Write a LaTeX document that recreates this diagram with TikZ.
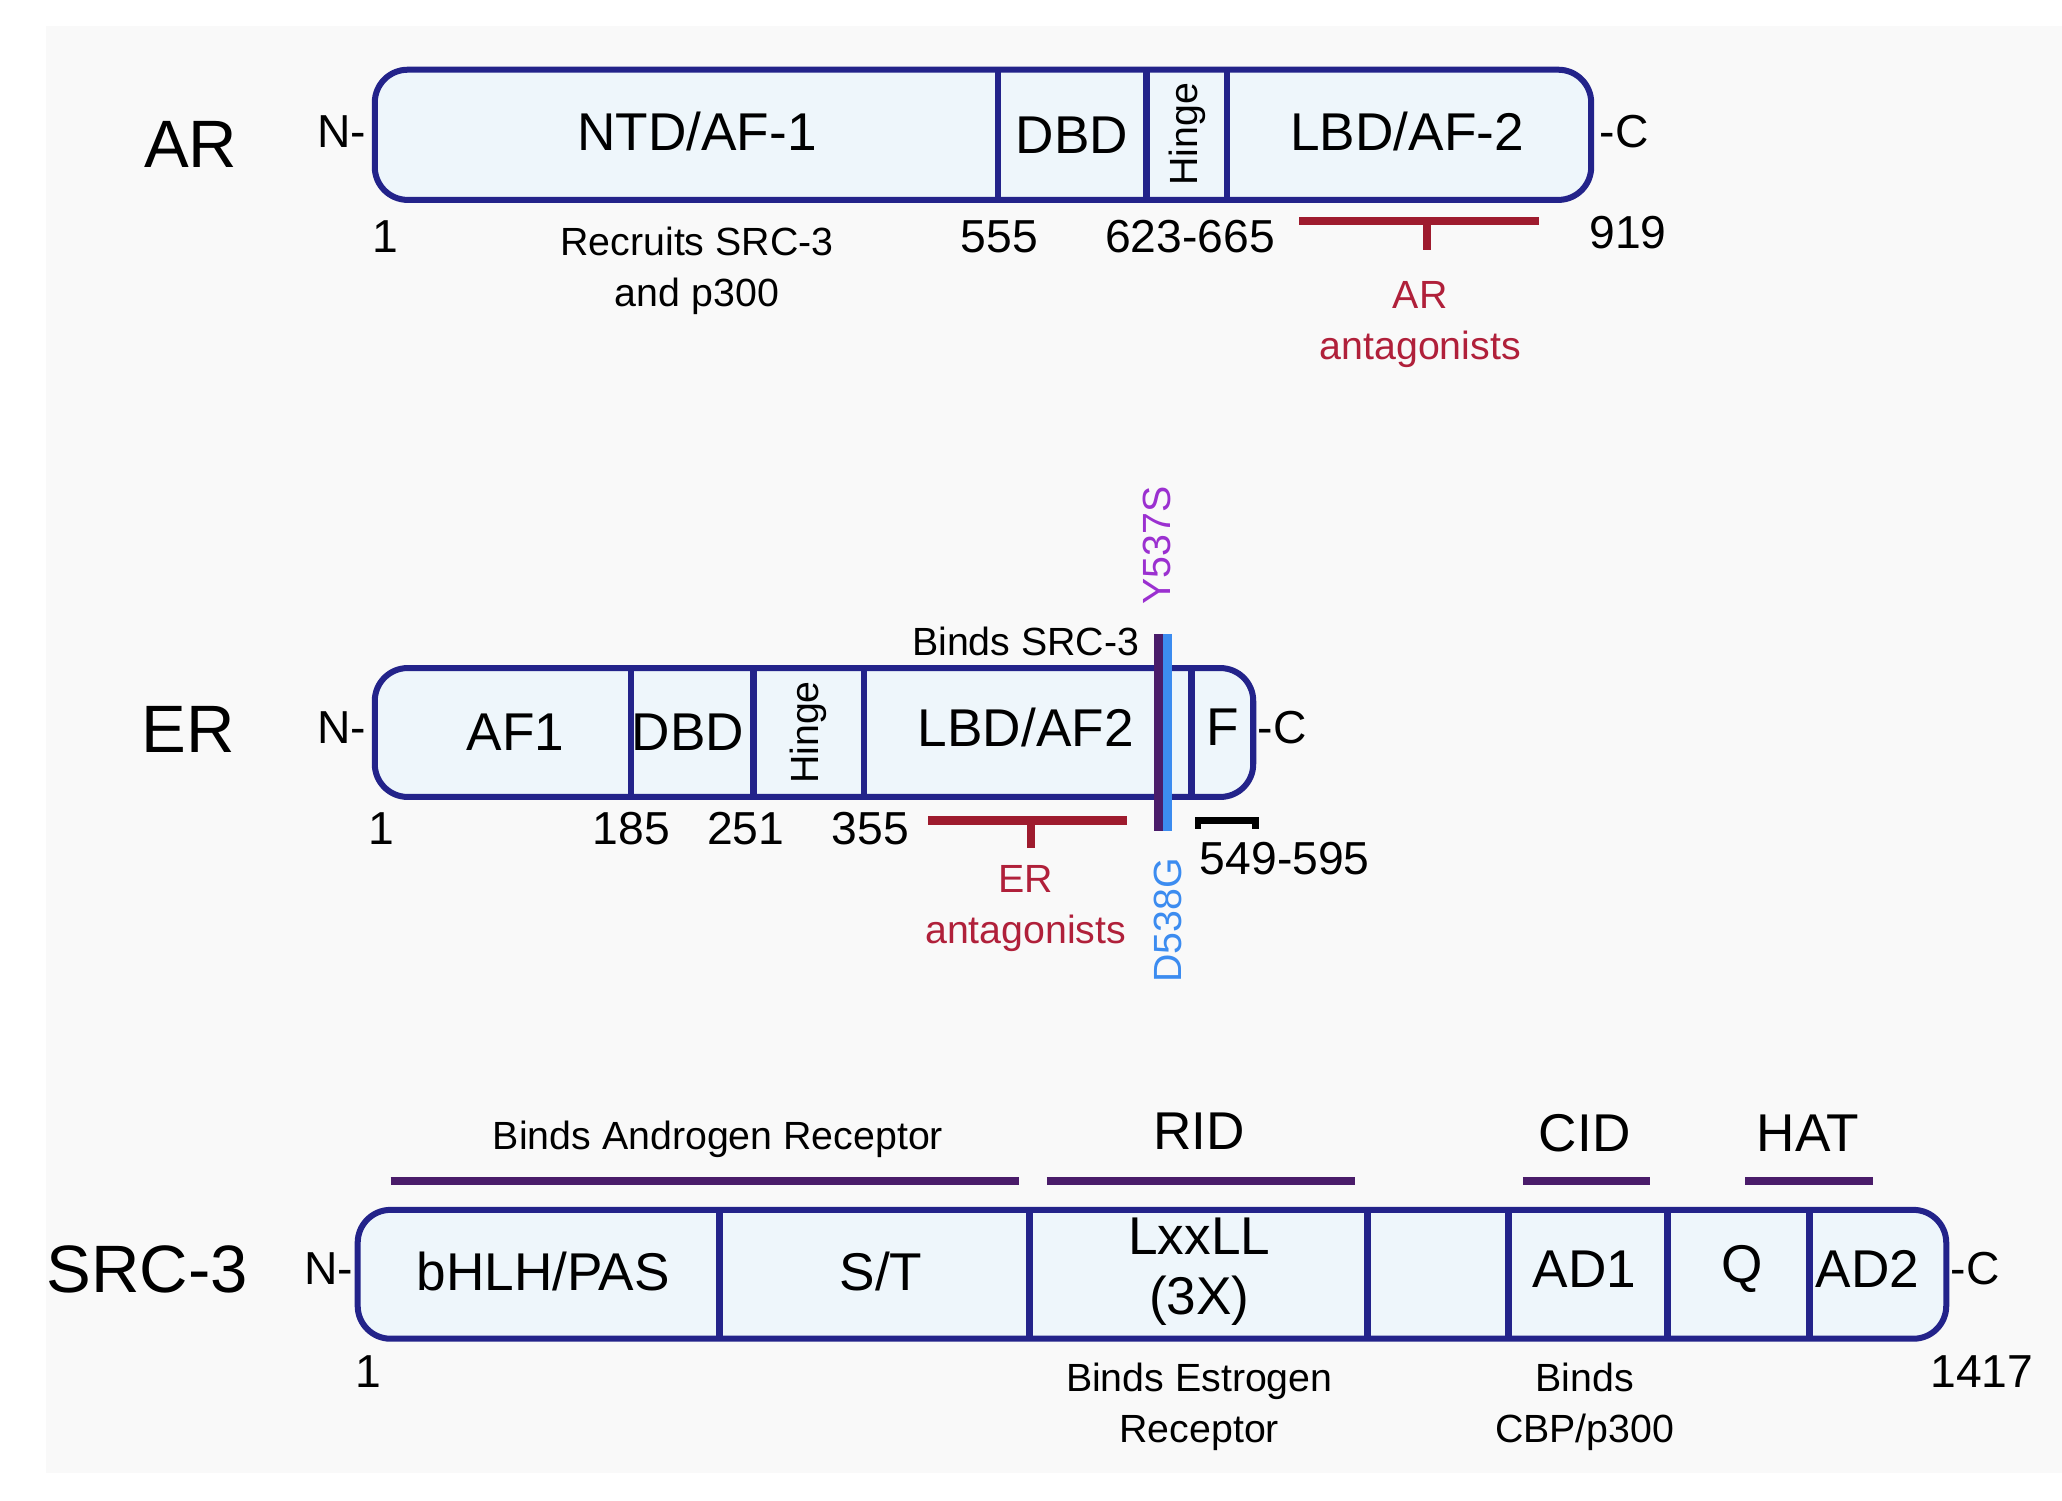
\documentclass[tikz,border=0pt]{standalone}
\usepackage{fontspec}
\setmainfont{Liberation Sans}
\begin{document}
\begin{tikzpicture}[x=0.01cm,y=-0.01cm,
  box/.style={draw=navy,line width=1.3pt,fill=boxfill,rounded corners=0.25cm},
  div/.style={draw=navy,line width=1.4pt},
  big/.style={font=\fontsize{11.5}{13}\selectfont},
  num/.style={font=\fontsize{10}{12}\selectfont},
  sm/.style={font=\fontsize{8.5}{10}\selectfont},
  ttl/.style={font=\fontsize{14.5}{17}\selectfont},
  term/.style={font=\fontsize{10}{12}\selectfont},
  redbar/.style={draw=darkred,line width=1.8pt},
  purbar/.style={draw=purp,line width=1.8pt}]
\definecolor{navy}{HTML}{23238A}
\definecolor{boxfill}{HTML}{EEF6FB}
\definecolor{darkred}{HTML}{9E1B2E}
\definecolor{redtxt}{HTML}{B0203A}
\definecolor{purp}{HTML}{4A1C6A}
\definecolor{violet}{HTML}{9B30D0}
\definecolor{lblue}{HTML}{3C8CF0}
\useasboundingbox (0,0) rectangle (1568,1141);
\fill[gray!5] (35,20) rectangle (1568,1120);
% AR
\node[ttl] (arn) at (145,110) {AR};
\draw[box] (285,53) rectangle (1210,152);
\foreach \x in {759,872,933}{\draw[div] (\x,53) -- (\x,152);}
\node[big] (a1) at (530,100) {NTD/AF-1};
\node[big] (a2) at (815,103) {DBD};
\node[sm,rotate=90] (a3) at (903,102) {Hinge};
\node[big] (a4) at (1070,100) {LBD/AF-2};
\node[term] (an) at (260,100) {N-};
\node[term] (ac) at (1235,100) {-C};
\node[num] at (293,180) {1};
\node[num] at (760,180) {555};
\node[num] at (905,180) {623-665};
\node[num] at (1238,177) {919};
\node[sm,align=center] at (530,206) {Recruits SRC-3\\[1pt]and p300};
\coordinate (r1) at (988,168); \coordinate (r2) at (1170,168);
\draw[redbar] (r1) -- (r2); \draw[redbar] (1085,168) -- (1085,190);
\node[sm,text=redtxt,align=center] at (1080,247) {AR\\[1pt]antagonists};
% ER
\node[ttl] (ern) at (143,555) {ER};
\draw[box] (285,508) rectangle (953,606);
\foreach \x in {480,573,657,906}{\draw[div] (\x,508) -- (\x,606);}
\node[big] at (392,557) {AF1};
\node[big] at (523,557) {DBD};
\node[sm,rotate=90] at (615,557) {Hinge};
\node[big] at (780,553) {LBD/AF2};
\node[big] at (930,553) {F};
\node[term] at (260,553) {N-};
\node[term] at (975,553) {-C};
\draw[draw=purp,line width=2pt] (881,482) -- (881,632);
\draw[draw=lblue,line width=2pt] (888,482) -- (888,632);
\node[sm,rotate=90,text=violet,anchor=west] at (880,472) {Y537S};
\node[sm,rotate=90,text=lblue,anchor=east] at (888,640) {D538G};
\node[sm] at (780,488) {Binds SRC-3};
\node[num] at (290,630) {1};
\node[num] at (480,630) {185};
\node[num] at (567,630) {251};
\node[num] at (662,630) {355};
\draw[redbar] (706,624) -- (857,624); \draw[redbar] (784,624) -- (784,645);
\node[sm,text=redtxt,align=center] at (780,691) {ER\\[1pt]antagonists};
\draw[line width=1.5pt] (911,630) -- (911,624) -- (955,624) -- (955,630);
\node[num] at (977,653) {549-595};
% SRC-3
\node[ttl] at (112,965) {SRC-3};
\draw[box] (272,920) rectangle (1480,1018);
\foreach \x in {547,783,1040,1147,1268,1376}{\draw[div] (\x,920) -- (\x,1018);}
\node[big] at (413,967) {bHLH/PAS};
\node[big] at (670,967) {S/T};
\node[big,align=center] at (912,967) {LxxLL\\[0pt](3X)};
\node[big] at (1205,965) {AD1};
\node[big] at (1325,965) {Q};
\node[big] at (1420,965) {AD2};
\node[term] at (250,965) {N-};
\node[term] at (1502,965) {-C};
\draw[purbar] (297,898) -- (775,898); \node[sm] at (546,866) {Binds Androgen Receptor};
\draw[purbar] (796,898) -- (1030,898); \node[big] at (912,860) {RID};
\draw[purbar] (1158,898) -- (1255,898); \node[big] at (1205,862) {CID};
\draw[purbar] (1327,898) -- (1424,898); \node[big] at (1375,862) {HAT};
\node[num] at (280,1043) {1};
\node[num] at (1507,1043) {1417};
\node[sm,align=center] at (912,1070) {Binds Estrogen\\[1pt]Receptor};
\node[sm,align=center] at (1205,1070) {Binds\\[1pt]CBP/p300};
\end{tikzpicture}
\end{document}
